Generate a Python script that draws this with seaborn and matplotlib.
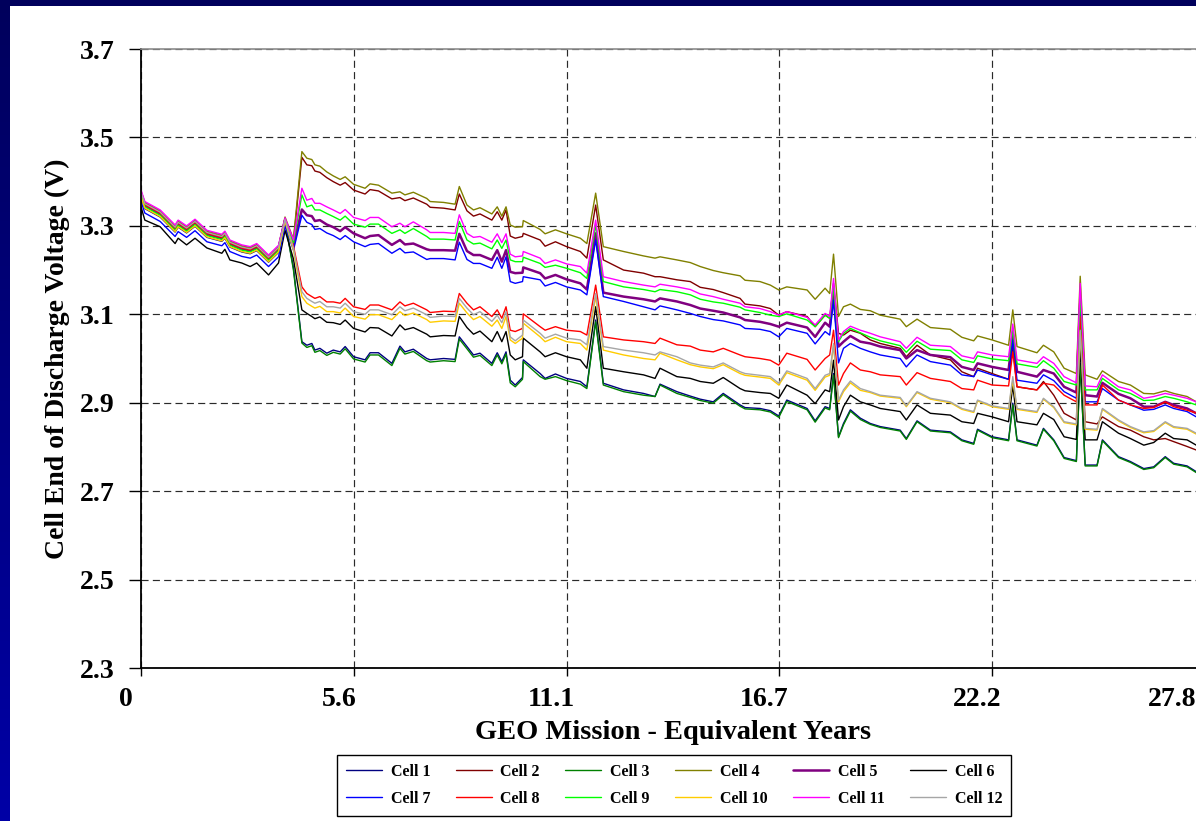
import numpy as np
import pandas as pd
import matplotlib
matplotlib.use("Agg")
import matplotlib.pyplot as plt
import seaborn as sns
from matplotlib.transforms import ScaledTranslation
from matplotlib.patches import Rectangle
from matplotlib.colors import LinearSegmentedColormap
from matplotlib.lines import Line2D

# ---------------- data ----------------
years = [
    0.00, 0.10, 0.50, 0.89, 0.97, 1.19, 1.41, 1.72, 2.11, 2.19, 2.32, 2.63, 2.85, 3.02, 3.33, 3.59, 3.76, 3.98,
    4.20, 4.33, 4.46, 4.54, 4.67, 4.85, 5.02, 5.20, 5.33, 5.55, 5.85, 5.98, 6.20, 6.55, 6.76, 6.89, 7.11, 7.46, 7.55, 7.90, 8.20, 8.31, 8.51, 8.68, 8.85, 9.16,
    9.30, 9.42, 9.53, 9.64, 9.77, 9.96, 9.98, 10.42, 10.55, 10.82, 11.11, 11.47, 11.64, 11.87, 12.07, 12.60, 13.12, 13.42, 13.55, 13.99,
    14.34, 14.60, 14.94, 15.20, 15.64, 15.77, 16.16, 16.43, 16.65, 16.86, 17.39, 17.60, 17.86, 17.98, 18.08, 18.21, 18.34, 18.52, 18.78,
    19.04, 19.30, 19.82, 19.98, 20.26, 20.61, 21.13, 21.43, 21.74, 21.84, 22.22, 22.65, 22.76, 22.87, 23.39, 23.56,
    23.83, 24.10, 24.42, 24.52, 24.65, 24.96, 25.10, 25.52, 25.83, 26.18, 26.44, 26.74, 26.96, 27.31, 27.55,
]

cell_1 = [
    3.365, 3.339, 3.320, 3.286, 3.297, 3.284, 3.299, 3.274, 3.265, 3.272, 3.252, 3.241, 3.237, 3.244, 3.218, 3.240, 3.308, 3.205,
    3.038, 3.030, 3.034, 3.019, 3.023, 3.012, 3.019, 3.015, 3.027, 3.004, 2.997, 3.013, 3.013, 2.989, 3.028, 3.015, 3.021, 3.000, 2.997, 3.000, 2.998, 3.049, 3.027, 3.008, 3.012, 2.989,
    3.013, 2.993, 3.015, 2.951, 2.940, 2.957, 2.997, 2.966, 2.955, 2.965, 2.955, 2.948, 2.936, 3.087, 2.944, 2.929, 2.921, 2.914, 2.942, 2.925,
    2.915, 2.908, 2.902, 2.921, 2.895, 2.889, 2.887, 2.882, 2.870, 2.906, 2.887, 2.859, 2.891, 2.887, 2.966, 2.823, 2.853, 2.884, 2.865,
    2.853, 2.846, 2.838, 2.819, 2.859, 2.838, 2.834, 2.816, 2.808, 2.840, 2.823, 2.816, 2.899, 2.816, 2.804, 2.842,
    2.816, 2.776, 2.769, 2.989, 2.759, 2.759, 2.816, 2.778, 2.767, 2.751, 2.755, 2.778, 2.763, 2.757, 2.744,
]
cell_2 = [
    3.377, 3.351, 3.332, 3.298, 3.309, 3.296, 3.311, 3.286, 3.277, 3.284, 3.264, 3.253, 3.249, 3.256, 3.230, 3.252, 3.316, 3.265,
    3.455, 3.438, 3.436, 3.424, 3.421, 3.409, 3.400, 3.392, 3.398, 3.381, 3.372, 3.382, 3.379, 3.361, 3.364, 3.357, 3.363, 3.349, 3.342, 3.340, 3.336, 3.372, 3.334, 3.322, 3.327, 3.313,
    3.332, 3.313, 3.336, 3.277, 3.272, 3.276, 3.283, 3.268, 3.254, 3.264, 3.253, 3.242, 3.227, 3.347, 3.223, 3.200, 3.193, 3.185, 3.185, 3.178,
    3.174, 3.161, 3.156, 3.149, 3.136, 3.123, 3.119, 3.113, 3.098, 3.106, 3.095, 3.072, 3.098, 3.091, 3.170, 3.057, 3.053, 3.064, 3.057,
    3.042, 3.034, 3.023, 3.004, 3.030, 3.008, 2.997, 2.970, 2.959, 2.978, 2.966, 2.953, 3.027, 2.936, 2.929, 2.948,
    2.917, 2.876, 2.861, 3.087, 2.857, 2.852, 2.868, 2.846, 2.838, 2.823, 2.816, 2.819, 2.812, 2.801, 2.793,
]
cell_3 = [
    3.371, 3.345, 3.326, 3.292, 3.303, 3.290, 3.305, 3.280, 3.271, 3.278, 3.258, 3.247, 3.243, 3.250, 3.224, 3.246, 3.312, 3.200,
    3.035, 3.025, 3.029, 3.014, 3.018, 3.007, 3.014, 3.010, 3.022, 2.999, 2.992, 3.008, 3.008, 2.984, 3.023, 3.010, 3.016, 2.995, 2.992, 2.995, 2.993, 3.044, 3.022, 3.003, 3.007, 2.984,
    3.008, 2.988, 3.010, 2.945, 2.936, 2.953, 2.993, 2.959, 2.953, 2.959, 2.950, 2.942, 2.932, 3.083, 2.940, 2.925, 2.917, 2.914, 2.940, 2.921,
    2.912, 2.905, 2.899, 2.918, 2.892, 2.886, 2.884, 2.879, 2.867, 2.903, 2.884, 2.856, 2.888, 2.884, 2.962, 2.821, 2.850, 2.881, 2.862,
    2.851, 2.844, 2.836, 2.817, 2.857, 2.836, 2.832, 2.814, 2.806, 2.838, 2.821, 2.814, 2.895, 2.814, 2.802, 2.840,
    2.814, 2.774, 2.767, 2.985, 2.757, 2.757, 2.814, 2.776, 2.765, 2.749, 2.753, 2.776, 2.761, 2.755, 2.742,
]
cell_4 = [
    3.379, 3.353, 3.334, 3.300, 3.311, 3.298, 3.313, 3.288, 3.279, 3.286, 3.266, 3.255, 3.251, 3.258, 3.232, 3.254, 3.320, 3.270,
    3.468, 3.453, 3.450, 3.438, 3.435, 3.422, 3.413, 3.405, 3.411, 3.394, 3.385, 3.395, 3.392, 3.374, 3.377, 3.370, 3.376, 3.362, 3.355, 3.353, 3.349, 3.389, 3.347, 3.336, 3.341, 3.327,
    3.343, 3.322, 3.343, 3.302, 3.297, 3.298, 3.312, 3.292, 3.282, 3.291, 3.282, 3.272, 3.260, 3.374, 3.253, 3.242, 3.232, 3.227, 3.230, 3.223,
    3.217, 3.208, 3.199, 3.194, 3.187, 3.177, 3.174, 3.166, 3.155, 3.162, 3.155, 3.134, 3.159, 3.147, 3.236, 3.095, 3.117, 3.123, 3.111,
    3.108, 3.098, 3.089, 3.072, 3.089, 3.070, 3.066, 3.048, 3.040, 3.051, 3.042, 3.030, 3.110, 3.027, 3.013, 3.030,
    3.015, 2.978, 2.966, 3.186, 2.963, 2.953, 2.972, 2.948, 2.940, 2.921, 2.920, 2.927, 2.921, 2.914, 2.902,
]
cell_5 = [
    3.373, 3.347, 3.328, 3.294, 3.305, 3.292, 3.307, 3.282, 3.273, 3.280, 3.260, 3.249, 3.245, 3.252, 3.226, 3.248, 3.312, 3.255,
    3.337, 3.324, 3.322, 3.311, 3.313, 3.303, 3.297, 3.288, 3.297, 3.283, 3.272, 3.277, 3.279, 3.257, 3.268, 3.258, 3.260, 3.247, 3.245, 3.245, 3.244, 3.282, 3.243, 3.234, 3.234, 3.223,
    3.245, 3.219, 3.245, 3.196, 3.193, 3.194, 3.206, 3.193, 3.181, 3.189, 3.179, 3.170, 3.156, 3.283, 3.149, 3.140, 3.134, 3.129, 3.136, 3.129,
    3.121, 3.113, 3.108, 3.104, 3.093, 3.087, 3.083, 3.078, 3.072, 3.081, 3.070, 3.049, 3.081, 3.072, 3.144, 3.027, 3.038, 3.051, 3.038,
    3.034, 3.027, 3.019, 3.000, 3.019, 3.008, 3.003, 2.981, 2.974, 2.989, 2.981, 2.974, 3.057, 2.970, 2.959, 2.974,
    2.966, 2.936, 2.923, 3.125, 2.917, 2.914, 2.945, 2.920, 2.910, 2.891, 2.891, 2.902, 2.895, 2.887, 2.876,
]
cell_6 = [
    3.343, 3.313, 3.298, 3.260, 3.272, 3.257, 3.272, 3.250, 3.238, 3.247, 3.223, 3.216, 3.208, 3.216, 3.189, 3.216, 3.290, 3.225,
    3.110, 3.102, 3.095, 3.090, 3.094, 3.082, 3.081, 3.077, 3.087, 3.068, 3.060, 3.070, 3.069, 3.051, 3.076, 3.065, 3.070, 3.055, 3.049, 3.052, 3.051, 3.095, 3.070, 3.055, 3.062, 3.038,
    3.061, 3.038, 3.061, 3.008, 2.997, 3.004, 3.046, 3.015, 3.004, 3.013, 3.004, 2.997, 2.978, 3.117, 2.978, 2.970, 2.963, 2.955, 2.978, 2.959,
    2.955, 2.948, 2.944, 2.957, 2.932, 2.927, 2.923, 2.921, 2.910, 2.940, 2.917, 2.898, 2.929, 2.925, 2.996, 2.861, 2.891, 2.917, 2.902,
    2.895, 2.887, 2.880, 2.861, 2.895, 2.876, 2.872, 2.857, 2.853, 2.876, 2.868, 2.857, 2.940, 2.857, 2.850, 2.876,
    2.862, 2.823, 2.817, 3.027, 2.816, 2.816, 2.857, 2.831, 2.819, 2.804, 2.810, 2.831, 2.819, 2.816, 2.804,
]
cell_7 = [
    3.355, 3.329, 3.310, 3.276, 3.287, 3.274, 3.289, 3.264, 3.255, 3.262, 3.242, 3.231, 3.227, 3.234, 3.208, 3.230, 3.300, 3.245,
    3.324, 3.308, 3.303, 3.292, 3.294, 3.284, 3.278, 3.269, 3.278, 3.264, 3.253, 3.258, 3.260, 3.238, 3.249, 3.239, 3.241, 3.224, 3.226, 3.226, 3.223, 3.263, 3.224, 3.215, 3.215, 3.204,
    3.229, 3.204, 3.230, 3.174, 3.170, 3.174, 3.185, 3.178, 3.164, 3.172, 3.162, 3.155, 3.144, 3.268, 3.140, 3.129, 3.117, 3.110, 3.119, 3.110,
    3.102, 3.095, 3.088, 3.085, 3.076, 3.068, 3.066, 3.061, 3.049, 3.068, 3.057, 3.033, 3.061, 3.053, 3.132, 2.990, 3.023, 3.034, 3.023,
    3.015, 3.008, 3.000, 2.981, 3.008, 2.993, 2.985, 2.963, 2.959, 2.974, 2.963, 2.953, 3.042, 2.951, 2.944, 2.963,
    2.950, 2.925, 2.910, 3.110, 2.902, 2.902, 2.932, 2.906, 2.895, 2.883, 2.885, 2.895, 2.887, 2.880, 2.868,
]
cell_8 = [
    3.374, 3.348, 3.329, 3.295, 3.306, 3.293, 3.308, 3.283, 3.274, 3.281, 3.261, 3.250, 3.246, 3.253, 3.227, 3.249, 3.316, 3.255,
    3.162, 3.147, 3.140, 3.136, 3.140, 3.128, 3.128, 3.125, 3.136, 3.117, 3.111, 3.121, 3.121, 3.110, 3.128, 3.119, 3.125, 3.110, 3.104, 3.107, 3.106, 3.147, 3.125, 3.110, 3.117, 3.095,
    3.110, 3.091, 3.117, 3.064, 3.061, 3.068, 3.101, 3.072, 3.064, 3.072, 3.064, 3.061, 3.053, 3.166, 3.049, 3.042, 3.038, 3.034, 3.046, 3.031,
    3.028, 3.019, 3.015, 3.023, 3.008, 3.004, 3.000, 2.996, 2.985, 3.012, 2.998, 2.974, 3.000, 3.008, 3.064, 2.940, 2.966, 2.990, 2.974,
    2.970, 2.963, 2.959, 2.940, 2.968, 2.955, 2.948, 2.932, 2.929, 2.951, 2.940, 2.938, 3.015, 2.936, 2.929, 2.944,
    2.940, 2.917, 2.902, 3.095, 2.895, 2.895, 2.940, 2.906, 2.895, 2.887, 2.889, 2.902, 2.891, 2.883, 2.877,
]
cell_9 = [
    3.369, 3.343, 3.324, 3.290, 3.301, 3.288, 3.303, 3.278, 3.269, 3.276, 3.256, 3.245, 3.241, 3.248, 3.222, 3.244, 3.315, 3.262,
    3.370, 3.343, 3.347, 3.336, 3.336, 3.328, 3.321, 3.313, 3.322, 3.304, 3.297, 3.304, 3.304, 3.283, 3.291, 3.283, 3.294, 3.276, 3.270, 3.270, 3.268, 3.310, 3.268, 3.259, 3.261, 3.248,
    3.268, 3.249, 3.268, 3.223, 3.219, 3.219, 3.229, 3.215, 3.206, 3.211, 3.204, 3.194, 3.181, 3.302, 3.174, 3.162, 3.156, 3.151, 3.156, 3.151,
    3.144, 3.134, 3.128, 3.125, 3.116, 3.110, 3.104, 3.098, 3.095, 3.101, 3.087, 3.072, 3.098, 3.091, 3.162, 3.038, 3.057, 3.068, 3.058,
    3.048, 3.040, 3.029, 3.014, 3.039, 3.021, 3.018, 2.997, 2.991, 3.006, 2.999, 2.995, 3.065, 2.988, 2.980, 2.995,
    2.978, 2.948, 2.940, 3.140, 2.929, 2.929, 2.955, 2.929, 2.921, 2.905, 2.906, 2.914, 2.910, 2.902, 2.895,
]
cell_10 = [
    3.366, 3.340, 3.321, 3.287, 3.298, 3.285, 3.300, 3.275, 3.266, 3.273, 3.253, 3.242, 3.238, 3.245, 3.219, 3.241, 3.310, 3.245,
    3.140, 3.125, 3.118, 3.114, 3.118, 3.106, 3.106, 3.103, 3.114, 3.095, 3.089, 3.099, 3.099, 3.088, 3.106, 3.097, 3.103, 3.088, 3.082, 3.085, 3.084, 3.125, 3.103, 3.088, 3.095, 3.073,
    3.087, 3.068, 3.095, 3.042, 3.034, 3.046, 3.080, 3.049, 3.038, 3.048, 3.038, 3.034, 3.019, 3.140, 3.019, 3.008, 3.000, 2.997, 3.012, 2.997,
    2.986, 2.981, 2.977, 2.986, 2.966, 2.962, 2.958, 2.955, 2.940, 2.968, 2.951, 2.928, 2.958, 2.962, 3.030, 2.902, 2.925, 2.945, 2.928,
    2.923, 2.915, 2.910, 2.891, 2.923, 2.908, 2.900, 2.885, 2.878, 2.904, 2.891, 2.885, 2.950, 2.885, 2.878, 2.908,
    2.889, 2.855, 2.850, 3.060, 2.840, 2.838, 2.885, 2.859, 2.844, 2.832, 2.835, 2.855, 2.844, 2.840, 2.829,
]
cell_11 = [
    3.381, 3.355, 3.336, 3.302, 3.313, 3.300, 3.315, 3.290, 3.281, 3.288, 3.268, 3.257, 3.253, 3.260, 3.234, 3.256, 3.318, 3.268,
    3.385, 3.358, 3.362, 3.351, 3.351, 3.343, 3.336, 3.328, 3.337, 3.319, 3.312, 3.319, 3.319, 3.298, 3.306, 3.298, 3.309, 3.291, 3.285, 3.285, 3.283, 3.325, 3.283, 3.274, 3.276, 3.263,
    3.282, 3.262, 3.282, 3.236, 3.230, 3.232, 3.242, 3.227, 3.215, 3.223, 3.214, 3.208, 3.193, 3.313, 3.185, 3.174, 3.166, 3.162, 3.168, 3.162,
    3.156, 3.146, 3.140, 3.134, 3.125, 3.117, 3.113, 3.106, 3.098, 3.106, 3.093, 3.076, 3.102, 3.095, 3.181, 3.042, 3.061, 3.073, 3.064,
    3.057, 3.049, 3.038, 3.023, 3.048, 3.030, 3.027, 3.006, 3.000, 3.015, 3.008, 3.004, 3.078, 2.997, 2.989, 3.004,
    2.989, 2.959, 2.945, 3.170, 2.938, 2.936, 2.963, 2.936, 2.929, 2.910, 2.914, 2.921, 2.917, 2.910, 2.902,
]
cell_12 = [
    3.376, 3.350, 3.331, 3.297, 3.308, 3.295, 3.310, 3.285, 3.276, 3.283, 3.263, 3.252, 3.248, 3.255, 3.229, 3.251, 3.314, 3.250,
    3.151, 3.136, 3.129, 3.125, 3.129, 3.117, 3.117, 3.114, 3.125, 3.106, 3.100, 3.110, 3.110, 3.099, 3.117, 3.108, 3.114, 3.099, 3.093, 3.096, 3.095, 3.136, 3.114, 3.099, 3.106, 3.084,
    3.098, 3.081, 3.106, 3.049, 3.040, 3.053, 3.087, 3.057, 3.046, 3.055, 3.046, 3.042, 3.031, 3.147, 3.027, 3.019, 3.013, 3.008, 3.015, 3.004,
    2.990, 2.985, 2.981, 2.990, 2.970, 2.966, 2.962, 2.959, 2.944, 2.972, 2.955, 2.932, 2.962, 2.966, 3.034, 2.906, 2.929, 2.949, 2.932,
    2.925, 2.917, 2.912, 2.893, 2.925, 2.910, 2.902, 2.887, 2.880, 2.906, 2.893, 2.887, 2.959, 2.887, 2.880, 2.910,
    2.891, 2.857, 2.852, 3.064, 2.842, 2.840, 2.887, 2.861, 2.846, 2.834, 2.837, 2.857, 2.846, 2.842, 2.831,
]

cell_names = ["Cell 1", "Cell 2", "Cell 3", "Cell 4", "Cell 5", "Cell 6",
              "Cell 7", "Cell 8", "Cell 9", "Cell 10", "Cell 11", "Cell 12"]
cell_values = [cell_1, cell_2, cell_3, cell_4, cell_5, cell_6,
               cell_7, cell_8, cell_9, cell_10, cell_11, cell_12]
cell_colors = ["#000080", "#800000", "#008000", "#808000", "#800080", "#000000",
               "#0000FF", "#FF0000", "#00FF00", "#FFCC00", "#FF00FF", "#A6A6A6"]

xtick_pos = [0, 5.556, 11.111, 16.667, 22.222, 27.778]
xtick_labels = ["0", "5.6", "11.1", "16.7", "22.2", "27.8"]
ytick_vals = [2.3, 2.5, 2.7, 2.9, 3.1, 3.3, 3.5, 3.7]
ytick_labels = ["2.3", "2.5", "2.7", "2.9", "3.1", "3.3", "3.5", "3.7"]

# ---------------- figure ----------------
sns.set_style("white")
plt.rcParams["font.family"] = ["Liberation Serif", "DejaVu Serif"]
plt.rcParams["font.weight"] = "bold"
plt.rcParams["text.color"] = "black"
plt.rcParams["axes.labelcolor"] = "black"
plt.rcParams["xtick.color"] = "black"
plt.rcParams["ytick.color"] = "black"

W, H = 1196, 821
fig = plt.figure(figsize=(W / 100, H / 100), dpi=100)

# navy frame background with white slide panel
bg = fig.add_axes([0, 0, 1, 1], zorder=-10)
grad = np.linspace(0, 1, 256).reshape(-1, 1)
cmap = LinearSegmentedColormap.from_list("navy", ["#00005c", "#0000a6"])
bg.imshow(grad, aspect="auto", cmap=cmap, extent=[0, W, H, 0], origin="upper")
bg.add_patch(Rectangle((10, 6), W - 10, H - 6, facecolor="white", edgecolor="none"))
bg.set_xlim(0, W)
bg.set_ylim(H, 0)
bg.axis("off")

ax = fig.add_axes([141 / W, (H - 668) / H, (1205 - 141) / W, (668 - 49) / H])
ax.set_facecolor("white")

for name, vals, col in zip(cell_names, cell_values, cell_colors):
    df = pd.DataFrame({"year": years, "volt": vals})
    sns.lineplot(data=df, x="year", y="volt", color=col,
                 linewidth=1.8 if name == "Cell 5" else 1.0,
                 estimator=None, sort=False, ax=ax, legend=False)

ax.set_xlim(0, 27.778)
ax.set_ylim(2.3, 3.7)
ax.set_xticks(xtick_pos)
ax.set_xticklabels(xtick_labels)
ax.set_yticks(ytick_vals)
ax.set_yticklabels(ytick_labels)

ax.grid(True, color="#2a2a2a", linestyle=(0, (6, 3.6)), linewidth=0.85)
ax.set_axisbelow(True)

for s in ["left", "bottom"]:
    ax.spines[s].set_color("black")
    ax.spines[s].set_linewidth(1.3)
ax.spines["top"].set_color("#8c8c8c")
ax.spines["top"].set_linewidth(1.2)
ax.spines["right"].set_visible(False)

ax.tick_params(axis="both", which="major", direction="out", colors="black",
               width=1.0, labelsize=20, left=True, bottom=True)
ax.tick_params(axis="y", length=9, pad=10)
ax.tick_params(axis="x", length=6, pad=8)

# tick labels sit slightly left of their gridlines, as in the reference
offset = ScaledTranslation(-15 / 100, 0, fig.dpi_scale_trans)
last_offset = ScaledTranslation(-33 / 100, 0, fig.dpi_scale_trans)
xlabs = ax.get_xticklabels()
for i, lab in enumerate(xlabs):
    lab.set_transform(lab.get_transform() + (last_offset if i == len(xlabs) - 1 else offset))

ax.set_xlabel("GEO Mission - Equivalent Years", fontsize=20.5, fontweight="bold", color="black")
ax.xaxis.set_label_coords(0.5, -(720 - 668) / (668 - 49))
ax.set_ylabel("Cell End of Discharge Voltage (V)", fontsize=20, fontweight="bold",
              va="center", color="black")
ax.yaxis.set_label_coords((57 - 141) / (1205 - 141), 0.5)

# legend: 2 rows x 6 columns filled row-wise
lines = ax.get_lines()[:12]
handles = [Line2D([0], [0], color=l.get_color(), lw=l.get_linewidth()) for l in lines]
order = [0, 6, 1, 7, 2, 8, 3, 9, 4, 10, 5, 11]
leg = fig.legend([handles[i] for i in order], [cell_names[i] for i in order],
                 ncol=6, loc="upper left", bbox_to_anchor=(337 / W, 1 - 755 / H),
                 bbox_transform=fig.transFigure, frameon=True, fancybox=False,
                 edgecolor="black", facecolor="white", framealpha=1,
                 prop={"size": 11.5, "weight": "bold"},
                 handlelength=2.25, handletextpad=0.55, columnspacing=1.6,
                 labelspacing=0.7, borderpad=0.55, borderaxespad=0)
leg.get_frame().set_linewidth(1.0)

fig.savefig("out.png", dpi=100)
